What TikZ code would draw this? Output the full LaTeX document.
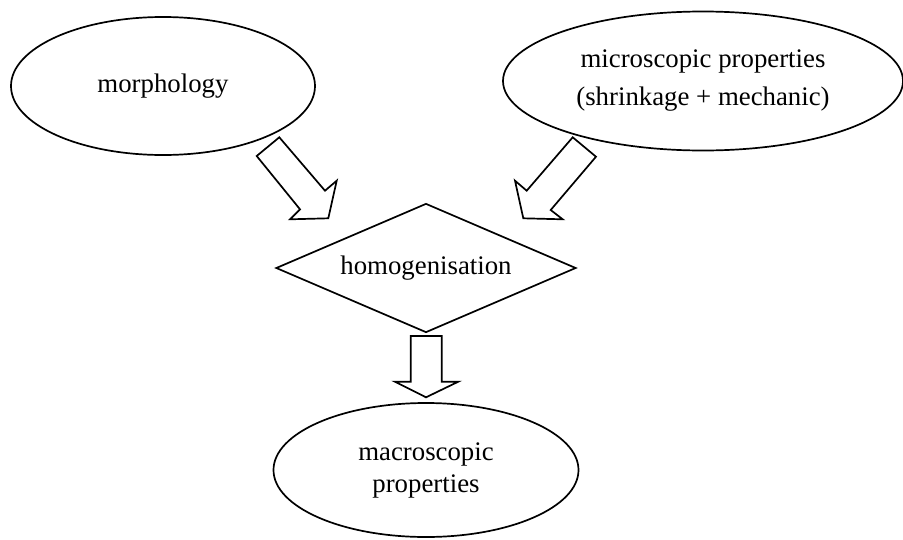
\documentclass[tikz,border=0pt]{standalone}
\usepackage{fontspec}
\setmainfont{Liberation Serif}
\usetikzlibrary{shapes.geometric}
\tikzset{
  bubble/.style={draw=black, line width=1.7pt, ellipse, inner sep=0pt, align=center,
    font=\fontsize{26.8}{38}\selectfont},
  rhombus/.style={draw=black, line width=1.7pt, diamond, aspect=2.33, inner sep=0pt,
    minimum width=300pt, minimum height=129pt, font=\fontsize{26.8}{32}\selectfont},
  blockarrow/.style={draw=black, line width=1.7pt, line join=miter, fill=white}
}
\begin{document}
\begin{tikzpicture}[x=1pt, y=-1pt]
\useasboundingbox (0,0) rectangle (903,539);
\node[bubble, minimum width=304pt, minimum height=138pt] (morph) at (163,86) {morphology};
\node[bubble, minimum width=400pt, minimum height=139pt] (micro) at (703,81) {microscopic properties\\(shrinkage + mechanic)};
\node[rhombus] (homog) at (426,268) {homogenisation};
\node[bubble, minimum width=305pt, minimum height=134pt, font=\fontsize{26.8}{32}\selectfont] (macro) at (426,470) {macroscopic\\properties};
% block arrows
\draw[blockarrow] (279.3,137.3) -- (325,190.7) -- (336.7,180.7) -- (328.3,218.3) -- (290,219.3) -- (300,209.3) -- (256.7,156) -- cycle;
\draw[blockarrow] (572.7,137.3) -- (596,156.7) -- (550.7,210) -- (562.7,219.3) -- (523.3,218.3) -- (515,180.7) -- (526.7,190.7) -- cycle;
\draw[blockarrow] (410.7,336) -- (441.7,336) -- (441.7,381.7) -- (458.3,381.7) -- (426,397.3) -- (395,381.7) -- (410.7,381.7) -- cycle;
\end{tikzpicture}
\end{document}
